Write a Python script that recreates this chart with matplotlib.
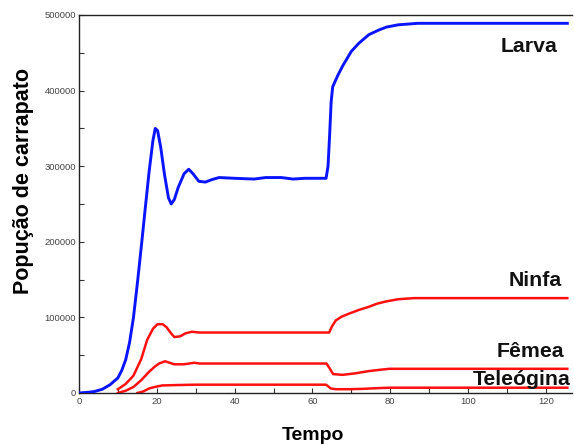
import matplotlib
matplotlib.use("Agg")
import matplotlib.pyplot as plt
from matplotlib.ticker import MultipleLocator

# ---- data ----
t_larva = [0, 2.5, 4, 6, 8, 10, 11, 12, 13, 14, 15, 16, 17, 18, 19, 19.6, 20.2, 21, 22, 23, 23.7,
           24.5, 25.5, 27, 28.2, 29.3, 30.8, 32.5, 34, 36, 40, 45, 48, 52, 55, 58, 63.5,
           64.0, 64.4, 64.8, 65.2, 66.5, 67.8, 70, 72, 74.5, 77, 79, 82, 87, 125.5]
larva = [0, 1000, 2000, 5000, 11000, 20000, 30000, 44000, 67000, 100000, 145000, 193000, 243000,
         292000, 334000, 350000, 347000, 325000, 288000, 258000, 250000,
         256000, 272000, 290000, 296000, 290000, 280000, 279000, 282000, 285000, 284000, 283000,
         285000, 285000, 283000, 284000, 284000,
         300000, 340000, 385000, 405000, 420000, 433000, 452000, 463000, 474000, 480000, 484000,
         487000, 489000, 489000]

t_ninfa = [10, 12, 14, 16, 17.5, 19, 20.2, 21.5, 22.5, 23.5, 24.5, 26, 27.4, 29, 30.9, 40, 50,
           60, 64.3, 65, 66, 67.5, 69.4, 72, 74.5, 76.5, 78.8, 82, 86, 125.5]
ninfa = [5000, 12000, 23000, 45000, 70000, 85000, 91000, 91000, 87000, 80000, 74000, 75000,
         79000, 81000, 80000, 80000, 80000, 80000, 80000, 88000, 96000, 101000, 105000, 110000,
         114000, 118000, 121000, 124000, 125500, 125500]

t_femea = [10, 12, 14, 16, 18, 19.5, 20.6, 22.1, 23.3, 24.4, 27, 29.6, 31, 40, 50, 60, 63.6,
           64.5, 65.3, 67.7, 71, 74.5, 77, 79.7, 85, 125.5]
femea = [0, 3000, 8000, 17000, 28000, 35000, 39000, 42000, 40000, 38000, 38000, 40000, 39000,
         39000, 39000, 39000, 39000, 32000, 25000, 24000, 26000, 29000, 30500, 32000, 32000, 32000]

t_teleogina = [15, 16.5, 18, 19.5, 21.4, 25, 30, 40, 50, 60, 63.5, 64.7, 66, 69.4, 73, 77, 80, 125.5]
teleogina = [0, 2000, 6000, 8000, 10000, 10500, 11000, 11000, 11000, 11000, 11000, 6000, 5000,
             5000, 5500, 6500, 7000, 7000]

series_labels = ["Larva", "Ninfa", "Fêmea", "Teleógina"]
label_x = [122.9, 124.2, 124.7, 126.4]
label_y = [451000, 141500, 47600, 10600]

x_label = "Tempo"
y_label = "Popução de carrapato"

# ---- figure ----
plt.rcParams['font.family'] = ['Liberation Sans', 'DejaVu Sans']
fig = plt.figure(figsize=(5.74, 4.45), dpi=100)
ax = fig.add_axes([79 / 574, 52 / 445, (572 - 79) / 574, (393 - 15) / 445])

blue = '#0a14ff'
red = '#ff1010'
ax.plot(t_larva, larva, color=blue, lw=2.1, solid_joinstyle='round', zorder=3)
ax.plot(t_ninfa, ninfa, color=red, lw=1.8, zorder=2)
ax.plot(t_femea, femea, color=red, lw=1.8, zorder=2)
ax.plot(t_teleogina, teleogina, color=red, lw=1.8, zorder=2)

ax.set_xlim(0, 126.7)
ax.set_ylim(0, 500000)

ax.xaxis.set_major_locator(MultipleLocator(20))
ax.xaxis.set_minor_locator(MultipleLocator(10))
ax.yaxis.set_major_locator(MultipleLocator(100000))
ax.yaxis.set_minor_locator(MultipleLocator(50000))
ax.tick_params(which='both', direction='in', length=3.5, width=0.8, labelsize=6.8,
               labelcolor='#444444', color='#333333')
ax.tick_params(axis='y', pad=2)
ax.tick_params(axis='x', pad=3)

for side in ['left', 'bottom', 'top']:
    ax.spines[side].set_linewidth(1.0)
    ax.spines[side].set_color('#222222')
ax.spines['right'].set_visible(False)

ax.set_xlabel(x_label, fontsize=14, fontweight='bold')
ax.xaxis.set_label_coords((313 - 79) / (572 - 79), -(440 - 393) / 378, transform=ax.transAxes)
ax.xaxis.label.set_va('baseline')
ax.set_ylabel(y_label, fontsize=15.5, fontweight='bold')
ax.yaxis.set_label_coords(-(79 - 24) / 493, (393 - 181) / 378)
ax.yaxis.label.set_va('center')

for lab, lx, ly in zip(series_labels, label_x, label_y):
    ax.text(lx, ly, lab, ha='right', va='baseline', fontsize=15.3, fontweight='bold',
            color='#111111', zorder=4)

fig.savefig('out.png', dpi=100)
